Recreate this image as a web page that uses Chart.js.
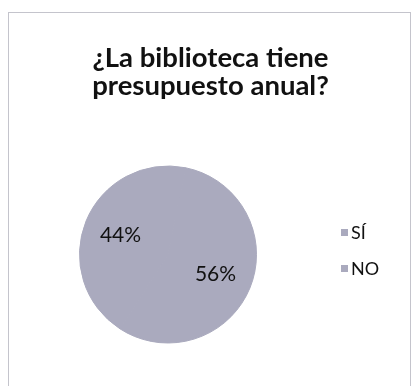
<!DOCTYPE html>
<html>
<head>
<meta charset="utf-8">
<script src="https://cdn.jsdelivr.net/npm/chart.js@4/dist/chart.umd.min.js"></script>
<style>
  html, body { margin: 0; padding: 0; background: #ffffff; }
  #wrap { position: relative; width: 415px; height: 386px; }
</style>
</head>
<body>
<div id="wrap"><canvas id="c" width="415" height="386"></canvas></div>
<script>
// Survey answer categories and their shares (percent)
const categories = ['SÍ', 'NO'];
const shares = [44, 56];
const sliceColors = ['#aaaabe', '#aaaabe'];
const titleLines = ['¿La biblioteca tiene', 'presupuesto anual?'];

// Frame, title, slice percentages and legend drawn on the chart canvas
const decorations = {
  id: 'decorations',
  beforeDraw(chart) {
    const ctx = chart.ctx;
    ctx.save();
    ctx.fillStyle = '#ffffff';
    ctx.fillRect(0, 0, chart.width, chart.height);
    ctx.strokeStyle = '#c4c4cc';
    ctx.lineWidth = 1;
    ctx.strokeRect(8.5, 12.5, 402, 400);
    ctx.restore();
  },
  afterDatasetsDraw(chart) {
    const ctx = chart.ctx;
    ctx.save();
    // title
    ctx.fillStyle = '#111111';
    ctx.textAlign = 'center';
    ctx.textBaseline = 'alphabetic';
    ctx.font = 'bold 27.5px Lato';
    ctx.fillText(titleLines[0], 210.5, 67);
    ctx.fillText(titleLines[1], 210.5, 95);

    // percentages inside slices
    const meta = chart.getDatasetMeta(0);
    const total = shares.reduce((a, b) => a + b, 0);
    ctx.font = '21px Lato';
    ctx.textBaseline = 'middle';
    meta.data.forEach((arc, i) => {
      const p = arc.getProps(['x', 'y', 'startAngle', 'endAngle', 'outerRadius'], true);
      const mid = (p.startAngle + p.endAngle) / 2;
      const r = p.outerRadius * 0.58;
      const pct = Math.round(shares[i] / total * 100) + '%';
      ctx.fillText(pct, p.x + Math.cos(mid) * r, p.y + Math.sin(mid) * r);
    });

    // legend
    ctx.textAlign = 'left';
    ctx.font = '18px Lato';
    categories.forEach((name, i) => {
      const y = 232 + i * 36;
      ctx.fillStyle = sliceColors[i];
      ctx.fillRect(341, y - 3, 7, 7);
      ctx.fillStyle = '#111111';
      ctx.fillText(name, 351, y + 1);
    });
    ctx.restore();
  }
};

new Chart(document.getElementById('c'), {
  type: 'pie',
  data: {
    labels: categories,
    datasets: [{
      data: shares,
      backgroundColor: sliceColors,
      borderColor: '#aaaabe',
      borderWidth: 1
    }]
  },
  options: {
    responsive: false,
    animation: false,
    rotation: 213,
    layout: { padding: { left: 79, right: 158, top: 165, bottom: 42 } },
    plugins: {
      legend: { display: false },
      title: { display: false },
      tooltip: { enabled: false }
    }
  },
  plugins: [decorations]
});
</script>
</body>
</html>
